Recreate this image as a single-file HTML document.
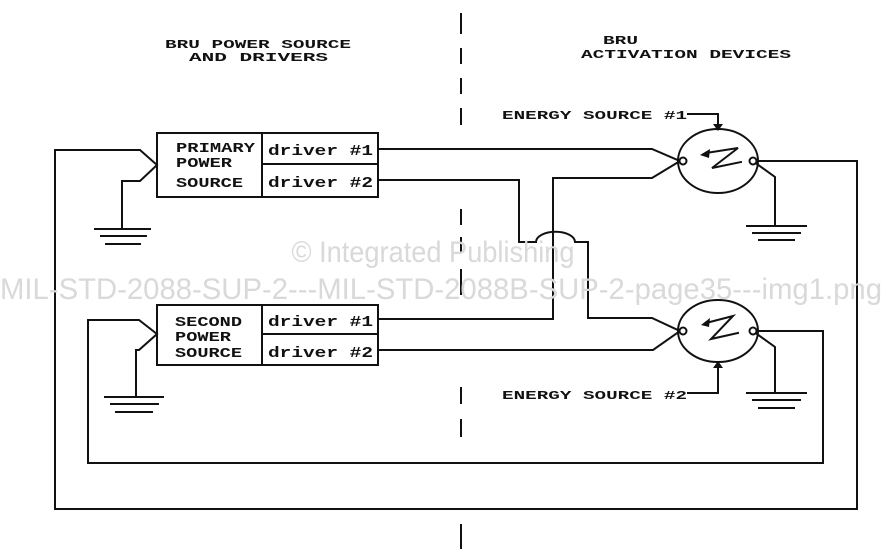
<!DOCTYPE html>
<html><head><meta charset="utf-8"><style>
html,body{margin:0;padding:0;background:#fff;}
svg{display:block;}
.t{font-family:"Liberation Mono",monospace;font-weight:bold;fill:#111;}
.w{font-family:"Liberation Sans",sans-serif;fill:#d9d9d9;}
</style></head><body>
<svg width="882" height="549" viewBox="0 0 882 549" xmlns="http://www.w3.org/2000/svg">
<g stroke="#111" stroke-width="2" fill="none" stroke-linecap="square">
<!-- dashed center line -->
<path d="M461 14V33 M461 49V63 M461 79V93 M461 109V124 M461 210V224 M461 238V252 M461 270V294 M461 388V403 M461 420V436 M461 525V549"/>
<!-- top box -->
<rect x="157" y="133" width="221" height="64"/>
<path d="M262 133V197 M262 164H378"/>
<!-- second box -->
<rect x="157" y="305" width="221" height="60"/>
<path d="M262 305V365 M262 334H378"/>
<!-- top-left connections -->
<path d="M55 509V150H140L157 165L140 181H122V229"/>
<path d="M95 229H150 M101 236H146 M106 244H140"/>
<!-- second-left connections -->
<path d="M88 463V320H139L157 334L139 350H136V397"/>
<path d="M105 397H163 M111 404H158 M116 412H152"/>
<!-- top driver lines -->
<path d="M378 149H652L680 161"/>
<path d="M378 180H519V242H536 A19 10 0 0 1 575 242H588V318H652L680 331"/>
<path d="M378 319H553V178H652L680 161"/>
<path d="M378 350H653L680 331"/>
<!-- circles -->
<ellipse cx="718" cy="161" rx="40" ry="32"/>
<ellipse cx="718" cy="331" rx="40" ry="31"/>
<circle cx="683" cy="161" r="3.5" fill="#fff"/>
<circle cx="753" cy="161" r="3.5" fill="#fff"/>
<circle cx="683" cy="331" r="3.5" fill="#fff"/>
<circle cx="753" cy="331" r="3.5" fill="#fff"/>
<!-- Z arrows -->
<path d="M706 153L738 148L712 168L741 162"/>
<path d="M706 323L733 316L711 339L738 333"/>
<!-- right side -->
<path d="M757 161H857V509H55"/>
<path d="M757 164L775 177V226 M747 226H806 M753 233H800 M759 240H794"/>
<path d="M757 331H823V463H88"/>
<path d="M757 334L775 347V393 M747 393H806 M753 400H800 M759 408H794"/>
<!-- energy arrows -->
<path d="M688 114H718V126"/>
<path d="M688 393H718V366"/>
</g>
<polygon points="713,124 723,124 718,131" fill="#111"/>
<polygon points="713,368 723,368 718,361" fill="#111"/>
<polygon points="700,155 710,149 709,158" fill="#111"/>
<polygon points="701,325 710,318 709,327" fill="#111"/>
<!-- watermark -->
<text class="w" x="433" y="262" font-size="30" text-anchor="middle" textLength="283" lengthAdjust="spacingAndGlyphs">© Integrated Publishing</text>
<text class="w" x="0" y="299" font-size="30" textLength="882" lengthAdjust="spacingAndGlyphs">MIL-STD-2088-SUP-2---MIL-STD-2088B-SUP-2-page35---img1.png</text>
<!-- titles -->
<text class="t" x="165" y="48" font-size="12" textLength="186" lengthAdjust="spacingAndGlyphs">BRU POWER SOURCE</text>
<text class="t" x="189" y="61" font-size="12" textLength="139" lengthAdjust="spacingAndGlyphs">AND DRIVERS</text>
<text class="t" x="603" y="44" font-size="12" textLength="35" lengthAdjust="spacingAndGlyphs">BRU</text>
<text class="t" x="581" y="58" font-size="12" textLength="210" lengthAdjust="spacingAndGlyphs">ACTIVATION DEVICES</text>
<!-- box labels -->
<text class="t" x="176" y="152" font-size="14" textLength="79" lengthAdjust="spacingAndGlyphs">PRIMARY</text>
<text class="t" x="176" y="167" font-size="14" textLength="56" lengthAdjust="spacingAndGlyphs">POWER</text>
<text class="t" x="176" y="187" font-size="14" textLength="67" lengthAdjust="spacingAndGlyphs">SOURCE</text>
<text class="t" x="268" y="155" font-size="15" textLength="105" lengthAdjust="spacingAndGlyphs">driver #1</text>
<text class="t" x="268" y="187" font-size="15" textLength="105" lengthAdjust="spacingAndGlyphs">driver #2</text>
<text class="t" x="175" y="326" font-size="14" textLength="67" lengthAdjust="spacingAndGlyphs">SECOND</text>
<text class="t" x="175" y="341" font-size="14" textLength="56" lengthAdjust="spacingAndGlyphs">POWER</text>
<text class="t" x="175" y="357" font-size="14" textLength="67" lengthAdjust="spacingAndGlyphs">SOURCE</text>
<text class="t" x="268" y="326" font-size="15" textLength="105" lengthAdjust="spacingAndGlyphs">driver #1</text>
<text class="t" x="268" y="357" font-size="15" textLength="105" lengthAdjust="spacingAndGlyphs">driver #2</text>
<text class="t" x="502" y="119" font-size="12" textLength="185" lengthAdjust="spacingAndGlyphs">ENERGY SOURCE #1</text>
<text class="t" x="502" y="399" font-size="12" textLength="185" lengthAdjust="spacingAndGlyphs">ENERGY SOURCE #2</text>
</svg>
</body></html>
